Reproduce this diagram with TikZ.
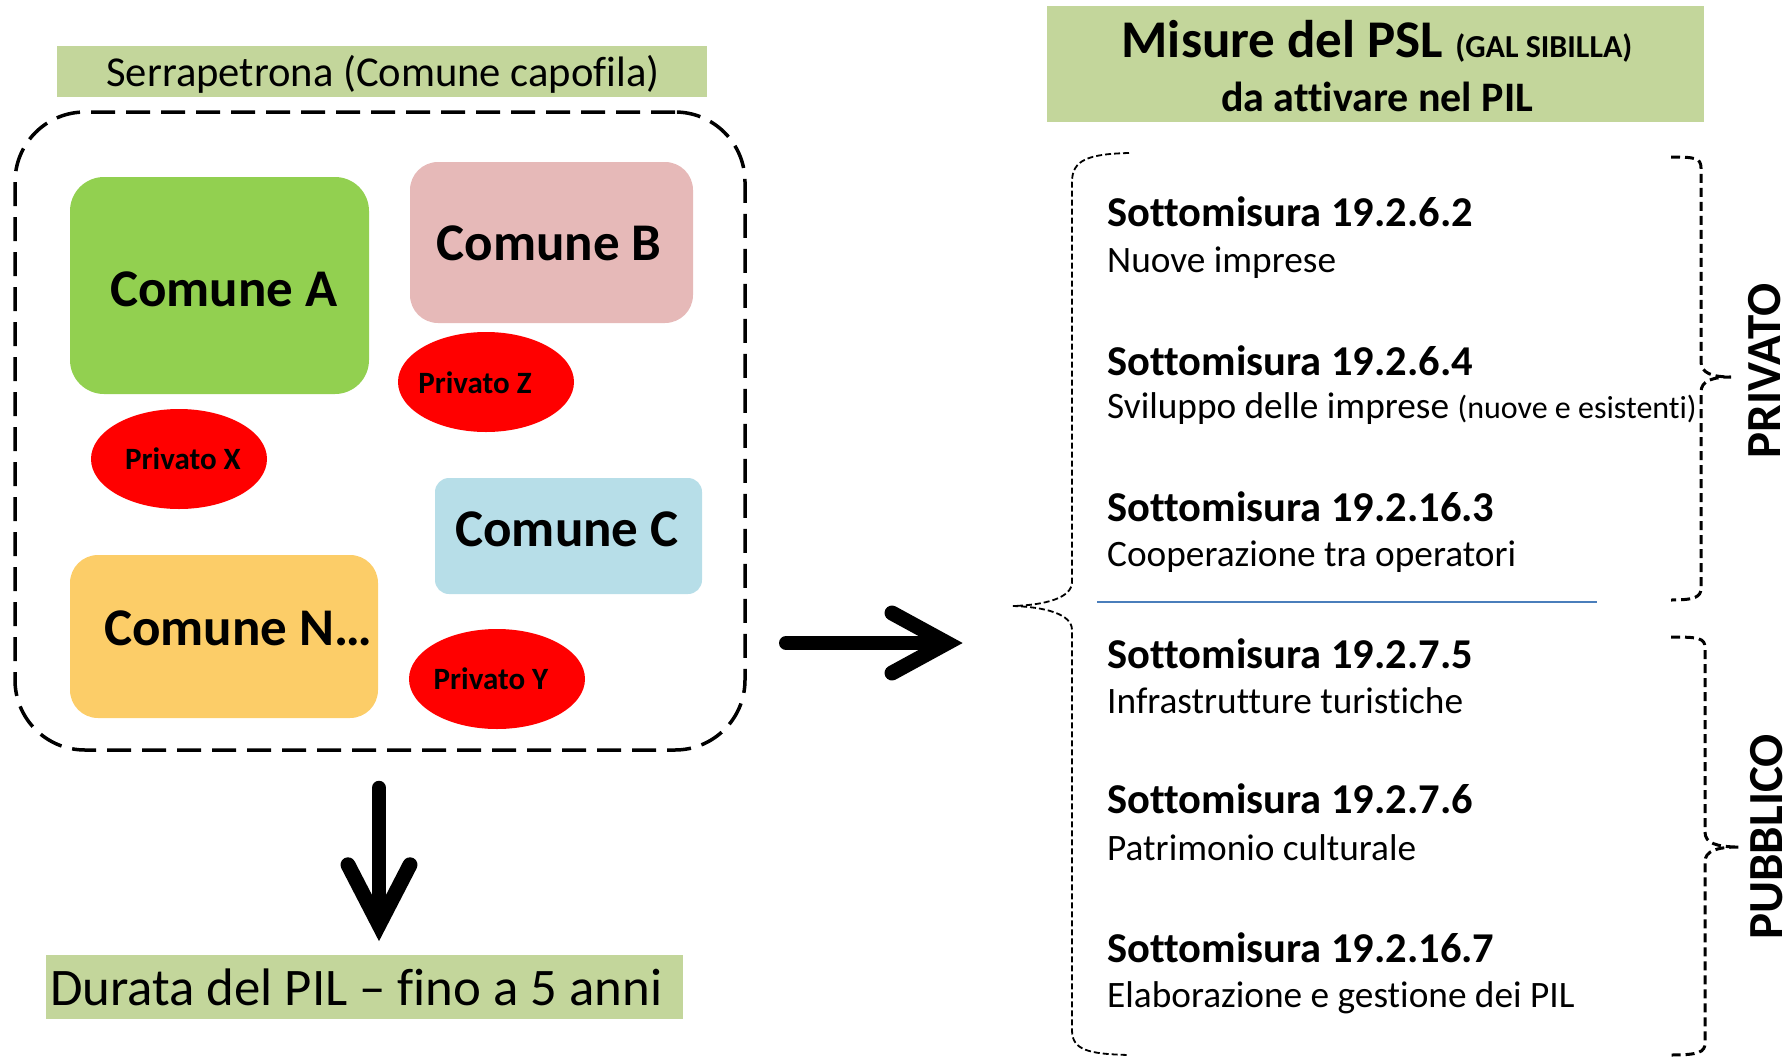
\documentclass[tikz,border=0pt]{standalone}
\usepackage{fontspec}
\setmainfont{Carlito}[Ligatures={NoCommon}]
\usetikzlibrary{shapes.geometric,calc}
\newcommand\myfs[1]{\fontsize{#1pt}{#1pt}\selectfont}
\definecolor{olivelt}{HTML}{C3D69B}
\definecolor{cgreen}{HTML}{92D050}
\definecolor{cpink}{HTML}{E6B9B8}
\definecolor{ccyan}{HTML}{B7DEE8}
\definecolor{corange}{HTML}{FCCD68}
\definecolor{lineblue}{HTML}{4A7EBB}
\begin{document}
\begin{tikzpicture}[x=1pt,y=-1pt,
  band/.style={fill=olivelt,inner sep=0pt,draw=none},
  cbox/.style={inner sep=0pt,draw=none},
  ctext/.style={inner sep=0pt,font=\myfs{53}\bfseries},
  priv/.style={ellipse,fill=red,draw=none,minimum width=176pt,minimum height=100pt,inner sep=0pt},
  ptext/.style={inner sep=0pt,font=\myfs{31}\bfseries},
  head/.style={inner sep=0pt,anchor=base west,font=\myfs{42.5}\bfseries},
  desc/.style={inner sep=0pt,anchor=base west,font=\myfs{37.3}},
  side/.style={inner sep=0pt,rotate=90,font=\myfs{49}\bfseries},
  bigline/.style={line width=14pt,line cap=round},
  bigarms/.style={line width=15pt,line cap=round,line join=miter},
  lbrace/.style={dash pattern=on 6pt off 3pt,line width=1.8pt},
  rbrace/.style={dash pattern=on 9pt off 5pt,line width=3pt}]
\useasboundingbox (0,0) rectangle (1792,1058);

% ---------- left part ----------
\node[band,minimum width=650pt,minimum height=51pt] (serra) at (382,71.5) {};
\node[inner sep=0pt,font=\myfs{42.6}] (serrat) at (383,74) {Serrapetrona (Comune capofila)};

\node[draw,dash pattern=on 24pt off 11pt,line width=3.5pt,rounded corners=70pt,
      minimum width=730pt,minimum height=638pt,inner sep=0pt] (frame) at (380,431) {};

\node[cbox,fill=cgreen,rounded corners=34pt,minimum width=299pt,minimum height=217pt] (ca) at (219.5,285.5) {};
\node[ctext] (cat) at (224,289) {Comune A};

\node[cbox,fill=cpink,rounded corners=28pt,minimum width=283pt,minimum height=161pt] (cb) at (551.5,242.5) {};
\node[ctext] (cbt) at (549,243) {Comune B};

\node[cbox,fill=ccyan,rounded corners=14pt,minimum width=267pt,minimum height=116pt] (cc) at (568.5,536) {};
\node[ctext] (cct) at (567,529) {Comune C};

\node[cbox,fill=corange,rounded corners=28pt,minimum width=308pt,minimum height=163pt] (cn) at (224,636.5) {};
\node[ctext] (cnt) at (238,628) {Comune N…};

\node[priv] (pz) at (486,382) {};
\node[ptext] (pzt) at (475,383) {Privato Z};
\node[priv] (px) at (179,459) {};
\node[ptext] (pxt) at (183,459) {Privato X};
\node[priv] (py) at (497,679) {};
\node[ptext] (pyt) at (491,679) {Privato Y};

% bottom band
\node[band,minimum width=637pt,minimum height=64pt] (durata) at (364.5,987) {};
\node[inner sep=0pt,anchor=west,font=\myfs{52.8}] (duratat) at (50,987) {Durata del PIL – fino a 5 anni};

% down arrow
\coordinate (dtop) at ($(frame.south)+(-1,36)$);
\coordinate (dtip) at ($(frame.south |- durata.north)+(-1,-14)$);
\draw[bigline] (dtop) -- ($(dtip)+(0,-20)$);
\draw[bigarms] ($(dtip)+(-31,-76)$) -- ($(dtip)+(0,-16)$) -- ($(dtip)+(31,-76)$);

% right arrow
\coordinate (ra) at (786,643);
\coordinate (rb) at (963,643);
\draw[bigline] (ra) -- ($(rb)+(-20,0)$);
\draw[bigarms] ($(rb)+(-71,-30)$) -- ($(rb)+(-16,0)$) -- ($(rb)+(-71,30)$);

% ---------- right part ----------
\node[band,minimum width=657pt,minimum height=116pt] (title) at (1375.5,64) {};
\node[inner sep=0pt,anchor=base] (t1) at (1377,57) {\myfs{53}\bfseries Misure del PSL {\myfs{32}(GAL SIBILLA)}};
\node[inner sep=0pt,anchor=base,font=\myfs{42}\bfseries] (t2) at (1377,111) {da attivare nel PIL};

% left big brace
\draw[lbrace] (1129,153) .. controls (1088,154) and (1072,160) .. (1072,182)
  -- (1072,582) .. controls (1072,598) and (1045,605) .. (1013,606)
  .. controls (1045,607) and (1072,614) .. (1072,630)
  -- (1072,1030) .. controls (1072,1050) and (1088,1054) .. (1129,1055);

% right brackets
\draw[rbrace] (1671,157) .. controls (1695,157) and (1701,158) .. (1701,168)
  -- (1701,362) .. controls (1701,373) and (1712,377) .. (1731,377)
  .. controls (1712,377) and (1701,381) .. (1701,392)
  -- (1701,588) .. controls (1701,597) and (1695,600) .. (1671,600);
\draw[rbrace] (1671,637) .. controls (1699,637) and (1705,638) .. (1705,648)
  -- (1705,832) .. controls (1705,843) and (1716,847) .. (1739,847)
  .. controls (1716,847) and (1705,851) .. (1705,862)
  -- (1705,1043) .. controls (1705,1052) and (1699,1055) .. (1671,1055);

\node[side] (privl) at (1765,371) {PRIVATO};
\node[side] (pubbl) at (1767,837) {PUBBLICO};

\draw[lineblue,line width=1.5pt] (1097,602) -- (1597,602);

% list
\node[head] (h1) at (1107,226) {Sottomisura 19.2.6.2};
\node[desc] (d1) at (1107,272) {Nuove imprese};
\node[head] (h2) at (1107,375) {Sottomisura 19.2.6.4};
\node[desc] (d2) at (1107,418) {Sviluppo delle imprese {\myfs{32}(nuove e esistenti)}};
\node[head] (h3) at (1107,521) {Sottomisura 19.2.16.3};
\node[desc] (d3) at (1107,566) {Cooperazione tra operatori};
\node[head] (h4) at (1107,668) {Sottomisura 19.2.7.5};
\node[desc] (d4) at (1107,713) {Infrastrutture turistiche};
\node[head] (h5) at (1107,813) {Sottomisura 19.2.7.6};
\node[desc] (d5) at (1107,860) {Patrimonio culturale};
\node[head] (h6) at (1107,962) {Sottomisura 19.2.16.7};
\node[desc] (d6) at (1107,1007) {Elaborazione e gestione dei PIL};
\end{tikzpicture}
\end{document}
